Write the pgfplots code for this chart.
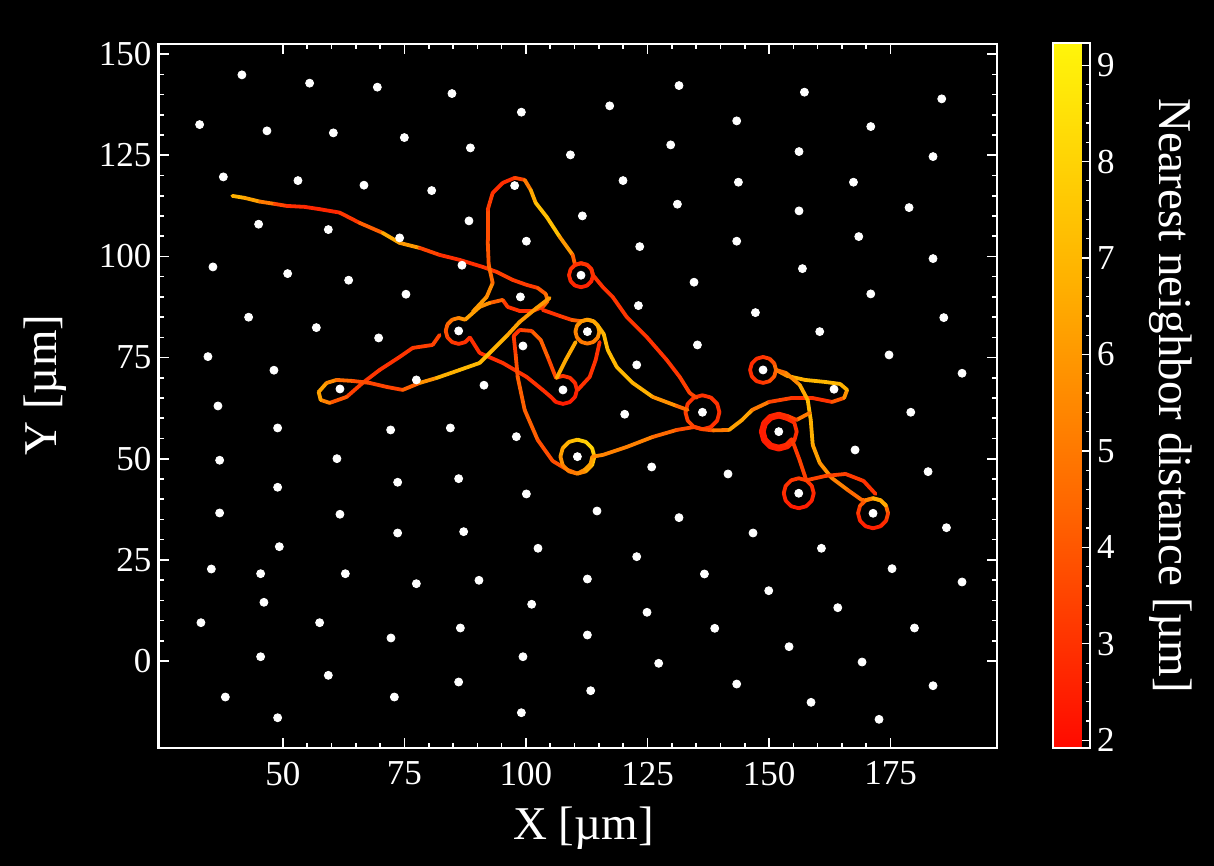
\documentclass[border=0pt]{standalone}
\usepackage{fontspec}
\setmainfont{Liberation Serif}
\usepackage{pgfplots}
\pgfplotsset{compat=1.18}

\pgfplotsset{
  colormap={heat}{rgb255=(255,10,0) rgb255=(255,100,0) rgb255=(255,178,0) rgb255=(255,245,10)},
  traj/.style={mesh, point meta=explicit, line width=1.9pt, line join=round, line cap=round, no markers},
}

\begin{document}
\begin{tikzpicture}
\fill[black] (-79.25pt,-59pt) rectangle (527.75pt,374pt);
\useasboundingbox (-79.25pt,-59pt) rectangle (527.75pt,374pt);
\begin{axis}[
  at={(0pt,0pt)}, anchor=south west,
  scale only axis, width=419.25pt, height=352pt,
  xmin=24.4, xmax=196.9, ymin=-21.5, ymax=152.5,
  axis background/.style={fill=black},
  axis line style={white, line width=1.1pt},
  every tick/.style={white, line width=0.8pt},
  major tick length=5pt, minor tick length=2.6pt,
  tick align=inside,
  xtick={50,75,...,175}, ytick={0,25,...,150},
  minor x tick num=4, minor y tick num=4,
  ticklabel style={white, font=\fontsize{17.5}{20}\selectfont},
  xticklabel style={yshift=-3.4pt},
  /pgf/number format/assume math mode=true,
  label style={white, font=\fontsize{23.5}{26}\selectfont},
  xlabel={X [µm]}, ylabel={Y [µm]},
  xlabel style={at={(axis description cs:0.507,-0.1136)}, anchor=center},
  ylabel style={at={(axis description cs:-0.1354,0.5156)}, anchor=center},
  colormap name=heat,
  point meta min=1.92, point meta max=9.23,
  colorbar,
  colorbar style={
    at={(parent axis.north east)}, anchor=north west, xshift=19.5pt, yshift=0.5pt,
    scale only axis, width=18.5pt, height=352.5pt,
    ytick={2,...,9}, minor y tick num=4,
    axis line style={white, line width=0.8pt},
    every tick/.style={white, line width=0.6pt},
    tick align=inside, major tick length=4pt, minor tick length=2pt,
    ytick pos=right, yticklabel pos=right,
    /pgf/number format/assume math mode=true,
    ticklabel style={white, font=\fontsize{17.5}{20}\selectfont},
    ylabel={Nearest neighbor distance [µm]},
    ylabel style={white, font=\fontsize{23.5}{26}\selectfont, at={(axis description cs:3.19,0.5)}, anchor=center, rotate=180},
  },
]

% start line, loops L1, L2, L6, L7, L8, L10, L9, L13
\addplot[traj] table[meta=c] {
x y c
39.59 114.96 7
42.12 114.46 6.5
45.21 113.55 6
48.29 112.98 4
50.76 112.48 3
54.47 112.24 2.8
57.55 111.67 2.6
61.67 110.83 2.8
65.78 108.28 3.5
70.51 105.81 5
74.01 103.34 8
78.13 102.10 4
82.24 100.37 3
86.36 99.14 2.8
91.09 97.40 3
93.97 96.17 3.2
97.26 94.19 3.5
100.14 92.96 3
102.41 92.21 3.5
104.06 90.73 4.5
104.47 88.99 5
103.44 87.52 4
101.38 86.53 3
98.70 86.53 3
96.23 87.52 3
95.21 89.25 3.5
92.53 88.50 5
90.47 87.52 6.5
87.49 84.36 6
86.15 84.79 5.5
84.82 84.36 5
83.84 83.19 4.5
83.48 81.58 4
83.84 79.97 3.5
84.82 78.80 3.2
86.15 78.37 3
87.49 78.80 3
88.46 79.97 3
90.47 76.14 2.8
95.21 73.67 3
100.14 70.21 3
103.44 67.00 3
105.12 65.27 2.8
106.17 64.00 2.6
107.61 63.54 2.4
109.05 64.00 2.4
110.10 65.27 2.5
110.49 67.00 2.6
110.10 68.73 2.8
109.05 70.00 3
107.61 70.46 3
106.17 70.00 3.2
104.47 75.15 4
103.03 79.36 4.5
101.17 81.58 4
98.70 81.83 3
97.47 80.35 3
97.88 75.65 3.5
98.29 70.21 4
99.73 62.05 4.5
102.41 54.64 4
105.49 49.44 3.5
108.58 47.22 4
110.58 46.31 5
112.33 46.87 6
113.61 48.41 7
114.08 50.51 7.5
113.61 52.61 8
112.33 54.15 8
110.58 54.71 7.5
108.83 54.15 7
107.55 52.61 6.5
107.08 50.51 6
107.55 48.41 5.5
108.83 46.87 5
110.58 46.31 5
112.13 47.30 6
113.26 48.65 6.5
113.67 50.51 6
115.78 50.93 5
120.72 52.90 5.5
126.07 55.38 5
131.01 57.11 4
134.71 57.85 3.5
136.30 57.28 3
138.05 57.84 3
139.33 59.38 3
139.80 61.48 3
139.33 63.58 3
138.05 65.12 3
136.30 65.68 3
134.55 65.12 3
133.27 63.58 3
132.80 61.48 3.2
133.27 59.38 3.5
134.55 57.84 3.5
136.30 57.28 3.5
138.50 57.00 4
141.79 57.11 6
144.46 59.58 6.5
146.52 62.05 6
150.02 64.03 4
154.75 65.02 3
158.86 65.02 3
162.98 64.03 3
165.45 65.02 5
166.07 67.00 6.5
164.63 68.48 7
161.54 68.97 7
157.43 69.47 7
153.72 70.46 6.5
151.44 71.94 5
151.08 73.55 4
150.11 74.72 3.5
148.77 75.15 3
147.44 74.72 3
146.46 73.55 2.8
146.10 71.94 2.8
146.46 70.33 3
147.44 69.16 3
148.77 68.73 3
150.11 69.16 3.5
151.08 70.33 4
151.44 71.94 4.5
153.50 71.20 5
156.32 68.23 6
157.96 64.52 7
158.58 59.58 7
158.99 53.40 6.5
160.43 48.95 6
162.90 45.24 5.5
166.19 42.27 5
169.08 39.80 4
169.86 39.72 5
171.40 40.22 6
172.95 39.72 6.5
174.08 38.37 5
174.49 36.51 4
174.08 34.66 3
172.95 33.30 2.6
171.40 32.80 2.5
169.86 33.30 2.5
168.72 34.66 2.6
168.31 36.51 3
168.72 38.37 3.5
169.86 39.72 4.5
171.40 40.22 6
172.95 39.72 7
174.08 38.37 6
};

% lobe round the dot at (61.7,67.2)
\addplot[traj] table[meta=c] {
x y c
82.24 80.59 3.5
80.80 78.12 3.5
76.69 77.38 3.2
74.01 75.15 3
69.90 71.94 3
66.40 68.73 3.2
63.11 65.27 3.5
59.61 63.78 4.5
57.76 64.52 6
57.35 66.50 6.5
58.99 68.73 6
61.05 69.47 5
64.34 69.22 4
67.84 68.73 3.5
71.34 67.74 3.5
74.63 67.00 3.5
78.13 68.73 5
81.63 69.96 6.5
86.36 71.94 7
90.47 73.67 7
93.15 76.89 7
96.23 80.59 6.5
98.70 83.81 6
102.20 87.27 6
104.88 89.74 6
};

% tall lobe, loop L4 and the long red run to L8
\addplot[traj] table[meta=c] {
x y c
89.03 86.28 6
91.91 89.99 6
93.15 93.45 5
92.33 97.90 4
92.12 104.08 4
92.12 111.50 3.5
93.15 115.70 3
95.21 118.17 2.8
97.68 119.41 3
99.73 118.91 4
100.97 116.44 6
102.00 113.23 7
104.26 109.76 7.5
106.94 104.82 7
109.61 100.37 5
110.09 97.92 3.5
111.32 98.32 3.2
112.56 97.92 3
113.46 96.84 2.8
113.79 95.35 2.8
113.46 93.87 2.6
112.56 92.78 2.6
111.32 92.38 2.6
110.09 92.78 2.6
109.18 93.87 2.8
108.85 95.35 2.8
109.18 96.84 3
110.09 97.92 3
111.32 98.32 3
112.56 97.92 3
113.46 96.84 3
113.79 95.35 3
115.78 92.46 3
117.83 89.99 3
120.72 85.04 3.2
124.83 80.10 3
128.95 74.41 3
131.63 70.21 3.2
133.68 66.25 3.5
135.12 65.02 3.5
};

% loop L5 and the orange run to L8
\addplot[traj] table[meta=c] {
x y c
103.44 86.77 3
106.94 85.29 3
109.40 84.30 3.5
111.40 83.98 5
112.63 84.38 5.5
113.87 83.98 6
114.77 82.90 6
115.10 81.41 6
114.77 79.93 5.5
113.87 78.84 5
112.63 78.44 5
111.40 78.84 5
110.49 79.93 5
110.16 81.41 5.5
110.49 82.90 5.5
111.40 83.98 6
112.63 84.38 6
113.87 83.98 6.5
114.77 82.90 6.5
115.99 80.84 7
116.81 76.89 7
118.67 72.68 7
121.96 68.73 7
126.07 65.27 6.5
131.01 63.04 5
133.27 62.05 4
};

\addplot[traj] table[meta=c] {
x y c
110.23 78.86 6
108.17 74.41 7
106.32 69.96 6
};

\addplot[traj] table[meta=c] {
x y c
115.16 78.86 3
114.34 74.41 3
113.11 70.21 3
110.64 67.00 3
};

% loops L11 and L12
\addplot[traj] table[meta=c] {
x y c
158.37 61.31 6
155.66 59.58 4
153.85 60.54 3
152.00 61.14 2.8
150.15 60.54 2.6
148.80 58.92 2.5
148.30 56.69 2.4
148.80 54.47 2.4
150.15 52.84 2.4
152.00 52.24 2.5
153.85 52.84 2.6
155.20 54.47 2.8
155.70 56.69 3
155.20 58.92 3
153.55 59.90 2.8
152.00 60.40 2.6
150.46 59.90 2.5
149.33 58.55 2.4
148.91 56.69 2.4
149.33 54.84 2.4
150.46 53.48 2.5
152.00 52.98 2.6
153.55 53.48 2.8
154.68 54.84 3
156.28 49.69 3.5
157.31 45.98 3.5
157.66 44.67 3.2
158.79 43.32 3
159.20 41.46 2.8
158.79 39.61 2.6
157.66 38.25 2.4
156.11 37.75 2.4
154.57 38.25 2.4
153.43 39.61 2.6
153.02 41.46 2.8
153.43 43.32 3
154.57 44.67 3
156.11 45.17 3.2
157.66 44.67 3.5
161.63 45.74 3.5
165.74 46.23 3.5
169.45 44.50 3
171.91 41.29 3
};

% pillar lattice
\addplot[only marks, mark=*, mark size=2pt, draw=white, fill=white, mark options={draw=white, fill=white}] table {
x y
41.56 144.87
55.49 142.82
69.42 141.83
84.77 140.25
99.05 135.65
32.86 132.58
46.71 131.03
60.37 130.53
74.98 129.37
88.56 126.82
109.14 125.09
37.74 119.65
53.09 118.74
66.67 117.60
80.60 116.27
97.67 117.50
111.60 110.01
45.00 107.96
59.34 106.63
74.01 104.57
88.27 108.78
100.08 103.76
35.60 97.40
50.97 95.75
63.52 94.12
86.83 97.82
111.32 95.35
75.31 90.65
98.85 89.99
42.94 84.97
56.87 82.40
69.69 79.85
86.15 81.58
112.63 81.41
99.38 77.87
34.57 75.23
48.15 71.87
77.45 69.47
91.36 68.16
61.73 67.24
107.61 67.00
117.22 137.21
131.48 142.22
157.28 140.59
185.53 138.94
143.35 133.50
170.93 132.09
129.77 127.56
156.17 125.91
183.74 124.67
119.96 118.74
143.70 118.34
167.37 118.34
131.15 112.90
156.17 111.25
178.81 112.06
123.40 102.42
143.35 103.76
168.46 104.90
156.87 96.98
183.74 99.46
134.57 93.62
170.93 90.73
123.13 87.84
147.20 86.11
185.95 84.87
160.43 81.41
135.27 78.12
174.69 75.65
122.78 73.18
189.71 71.12
148.77 71.94
163.37 67.17
36.63 63.04
48.91 57.60
72.16 57.11
84.44 57.60
98.02 55.45
110.58 50.51
36.98 49.62
61.11 50.01
48.91 42.94
73.60 44.18
86.15 45.07
100.08 41.29
114.61 37.08
36.98 36.59
61.73 36.27
73.60 31.64
87.18 31.97
49.26 28.26
102.47 27.86
35.27 22.74
45.41 21.58
62.84 21.58
77.45 19.11
90.33 19.95
112.63 20.27
46.09 14.51
101.17 14.02
33.13 9.47
57.55 9.47
86.50 8.16
72.22 5.69
112.63 6.43
45.41 1.06
99.38 1.06
59.34 -3.54
86.15 -5.19
113.31 -7.34
38.15 -8.90
72.92 -8.90
48.91 -14.02
99.05 -12.78
136.30 61.48
120.31 60.99
179.16 61.48
152.00 56.69
167.70 52.16
125.86 47.96
141.56 46.23
182.72 46.80
156.11 41.46
131.48 35.43
171.40 36.51
146.71 31.64
186.50 32.95
122.78 25.79
160.78 27.86
136.71 21.51
175.31 22.82
189.71 19.53
149.94 17.38
124.90 12.04
164.14 13.18
138.83 8.08
179.92 8.16
154.12 3.54
127.30 -0.57
169.14 -0.25
143.35 -5.69
183.74 -6.11
158.64 -10.21
172.63 -14.41
};
\end{axis}
\end{tikzpicture}
\end{document}
